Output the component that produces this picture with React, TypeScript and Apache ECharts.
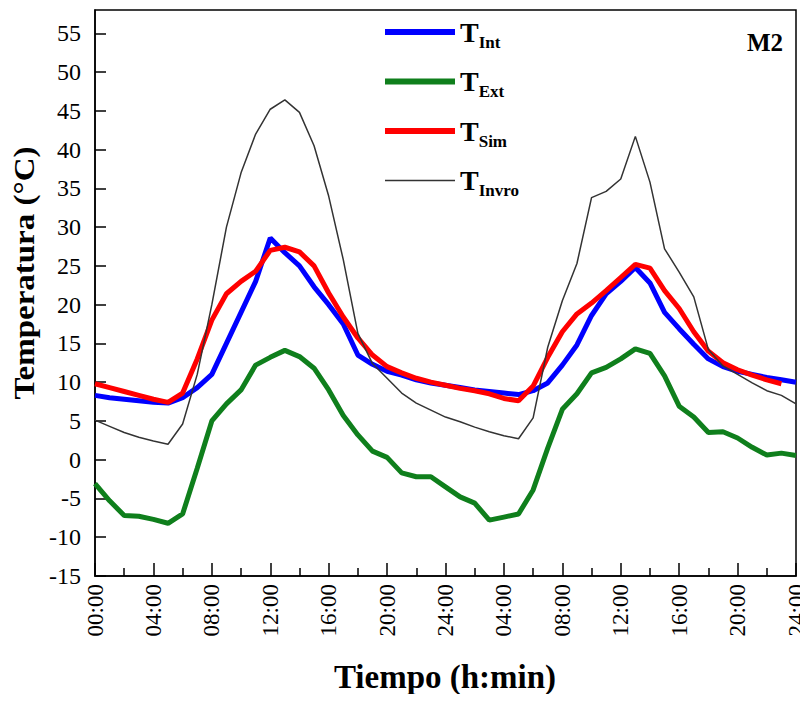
import React, { useEffect, useRef } from "react";
import * as echarts from "echarts";

// Hourly readings over two days (hour 0 … 48)
const hours: number[] = [
  0, 1, 2, 3, 4, 5, 6, 7, 8, 9, 10, 11, 12, 13, 14, 15, 16, 17, 18, 19, 20, 21, 22, 23, 24,
  25, 26, 27, 28, 29, 30, 31, 32, 33, 34, 35, 36, 37, 38, 39, 40, 41, 42, 43, 44, 45, 46, 47, 48,
];

const tInt: number[] = [
  8.3, 8.0, 7.8, 7.6, 7.4, 7.3, 8.0, 9.3, 11.0, 15.0, 19.0, 23.0, 28.6, 26.7, 25.0, 22.3, 20.0,
  17.5, 13.5, 12.3, 11.4, 10.9, 10.3, 9.9, 9.6, 9.3, 9.0, 8.8, 8.6, 8.4, 8.9, 9.9, 12.2, 14.8,
  18.6, 21.4, 23.0, 24.8, 22.8, 19.0, 16.9, 14.9, 13.0, 12.0, 11.4, 11.0, 10.6, 10.3, 10.0,
];

const tExt: number[] = [
  -3.1, -5.3, -7.2, -7.3, -7.7, -8.2, -7.0, -1.1, 5.0, 7.2, 9.0, 12.2, 13.2, 14.1, 13.3, 11.8,
  9.0, 5.7, 3.2, 1.1, 0.3, -1.7, -2.2, -2.2, -3.5, -4.8, -5.6, -7.8, -7.4, -7.0, -3.9, 1.5, 6.5,
  8.5, 11.2, 11.9, 13.0, 14.3, 13.7, 10.8, 6.9, 5.5, 3.5, 3.6, 2.8, 1.6, 0.6, 0.85, 0.55,
];

const tSim: (number | null)[] = [
  9.8, 9.3, 8.8, 8.3, 7.8, 7.4, 8.6, 13.0, 18.0, 21.4, 23.0, 24.3, 27.0, 27.4, 26.8, 25.0, 21.5,
  18.4, 15.7, 13.5, 12.0, 11.2, 10.5, 10.0, 9.6, 9.2, 8.9, 8.5, 7.9, 7.6, 9.5, 13.2, 16.5, 18.8,
  20.2, 21.8, 23.5, 25.2, 24.7, 21.8, 19.5, 16.5, 14.0, 12.5, 11.6, 10.9, 10.3, 9.8, null,
];

const tInvro: number[] = [
  5.1, 4.3, 3.5, 2.9, 2.4, 2.0, 4.6, 11.0, 20.0, 30.0, 37.0, 42.0, 45.2, 46.4, 44.8, 40.5, 34.0,
  25.8, 16.3, 12.4, 10.5, 8.6, 7.3, 6.4, 5.5, 4.9, 4.2, 3.6, 3.1, 2.7, 5.4, 14.5, 20.5, 25.3,
  33.8, 34.6, 36.2, 41.7, 35.8, 27.2, 24.2, 21.0, 14.2, 12.1, 11.0, 9.9, 8.9, 8.3, 7.2,
];

const seriesNames = ["Int", "Ext", "Sim", "Invro"];
const seriesColors = ["#0000ff", "#0f7f1c", "#ff0000", "#333333"];
const seriesWidths = [5, 5, 5, 1.5];

const FONT = "Liberation Serif";

const pairs = (vals: (number | null)[]) => hours.map((h, i) => [h, vals[i]]);

const hourLabel = (v: number) => {
  const h = v === 0 ? 0 : ((v - 1) % 24) + 1;
  return `${String(h).padStart(2, "0")}:00`;
};

// legend swatches: a flat bar, thick for the measured/simulated series, thin for Invro
const swatch = (w: number) => `path://M0,0L70,0L70,${w}L0,${w}Z`;

export default function App() {
  const ref = useRef<HTMLDivElement>(null);

  useEffect(() => {
    if (!ref.current) return;
    const chart = echarts.init(ref.current, undefined, { renderer: "svg" });

    const values = [tInt, tExt, tSim, tInvro];
    const order = [1, 0, 2, 3];

    chart.setOption({
      animation: false,
      backgroundColor: "#fff",
      grid: {
        left: 95,
        right: 12,
        top: 10,
        bottom: 126,
        show: true,
        borderColor: "#000",
        borderWidth: 1.5,
      },
      legend: {
        orient: "vertical",
        left: 380,
        top: 13,
        itemWidth: 70,
        itemHeight: 12,
        itemGap: 17,
        selectedMode: false,
        data: seriesNames.map((n, i) => ({
          name: n,
          icon: swatch(i === 3 ? 1.3 : 6),
          itemStyle: { color: seriesColors[i], borderWidth: 0 },
        })),
        formatter: (name: string) => `{t|T}{s|${name}}`,
        textStyle: {
          rich: {
            t: { fontSize: 28, fontWeight: "bold", fontFamily: FONT, color: "#000" },
            s: {
              fontSize: 17,
              fontWeight: "bold",
              fontFamily: FONT,
              color: "#000",
              padding: [20, 0, 0, 0],
            },
          },
        },
      },
      xAxis: {
        type: "value",
        min: 0,
        max: 48,
        interval: 4,
        axisLine: { show: true, onZero: false, lineStyle: { color: "#000", width: 1.5 } },
        axisTick: { show: true, inside: true, length: 13, lineStyle: { color: "#000", width: 1.5 } },
        minorTick: { show: true, splitNumber: 2, length: 8, lineStyle: { color: "#000", width: 1.5 } },
        splitLine: { show: false },
        axisLabel: {
          rotate: 90,
          margin: 8,
          fontSize: 23,
          fontFamily: FONT,
          color: "#000",
          formatter: (v: number) => hourLabel(v),
        },
      },
      yAxis: {
        type: "value",
        min: -15,
        max: 58,
        interval: 5,
        axisLine: { show: true, lineStyle: { color: "#000", width: 1.5 } },
        axisTick: { show: true, inside: true, length: 11, lineStyle: { color: "#000", width: 1.5 } },
        splitLine: { show: false },
        axisLabel: {
          margin: 14,
          fontSize: 24,
          fontFamily: FONT,
          color: "#000",
          showMaxLabel: false,
        },
      },
      graphic: [
        {
          type: "text",
          right: 25,
          top: 30,
          style: { text: "M2", fontSize: 25, fontWeight: "bold", fontFamily: FONT, fill: "#000" },
        },
        {
          type: "text",
          x: 24,
          y: 273,
          rotation: Math.PI / 2,
          scaleX: 1.1,
          style: {
            text: "Temperatura (°C)",
            fontSize: 30,
            fontWeight: "bold",
            fontFamily: FONT,
            fill: "#000",
            align: "center",
            verticalAlign: "middle",
          },
        },
        {
          type: "text",
          x: 445,
          y: 677,
          style: {
            text: "Tiempo (h:min)",
            fontSize: 33,
            fontWeight: "bold",
            fontFamily: FONT,
            fill: "#000",
            align: "center",
            verticalAlign: "middle",
          },
        },
      ],
      series: order.map((i) => ({
        name: seriesNames[i],
        type: "line",
        data: pairs(values[i]),
        symbol: "none",
        connectNulls: false,
        z: i === 3 ? 5 : 3,
        lineStyle: { color: seriesColors[i], width: seriesWidths[i] },
        itemStyle: { color: seriesColors[i] },
      })),
    });

    return () => chart.dispose();
  }, []);

  return <div ref={ref} style={{ width: 808, height: 702, margin: -8 }} />;
}
